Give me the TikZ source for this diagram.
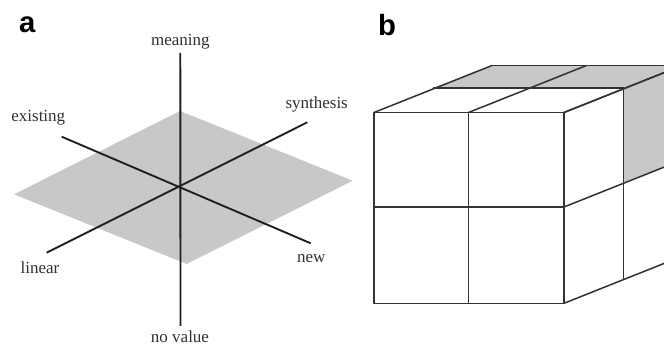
\documentclass[tikz,border=0pt]{standalone}
\usepackage{fontspec}
\setmainfont{Liberation Serif}
\setsansfont{Liberation Sans}
\usetikzlibrary{calc}
\definecolor{planefill}{HTML}{C8C8C8}
\definecolor{axisline}{HTML}{1E1E1E}
\definecolor{cubeline}{HTML}{333333}
\definecolor{labeltext}{HTML}{303030}

\begin{document}
\begin{tikzpicture}[x=0.3mm, y=-0.3mm,
    every node/.style={inner sep=0pt},
    panellabel/.style={
        font=\sffamily\bfseries\fontsize{25}{28}\selectfont,
        anchor=base west,
    },
    axislabel/.style={
        font=\fontsize{14.5}{16}\selectfont, text=labeltext,
    },
    axis/.style={
        draw=axisline, line width=1.6pt,
    },
    plane/.style={fill=planefill, draw=none},
    cubeedge/.style={
        draw=cubeline, line width=1.3pt, line cap=round, line join=round,
    },
    shaded/.style={fill=planefill, draw=none},
]
\useasboundingbox (0,0) rectangle (664,345);

% ── Panel a: three axes through a tilted plane ─────────────────────────
\node[panellabel] (pa) at (19,33) {a};

\coordinate (ptop)    at (180,111);
\coordinate (pright)  at (352.7,180.7);
\coordinate (pbottom) at (186.7,264);
\coordinate (pleft)   at (14,194.3);
\fill[plane] (ptop) -- (pright) -- (pbottom) -- (pleft) -- cycle;

\coordinate (meanend)  at (180.3,53);
\coordinate (noval)    at (180.5,326);
\coordinate (existend) at (61.7,136.7);
\coordinate (newend)   at (310.7,243.3);
\coordinate (linend)   at (46.7,252.7);
\coordinate (synend)   at (307.3,122.3);

\draw[axis] (meanend) -- (noval);
\draw[axis] (existend) -- (newend);
\draw[axis] (linend) -- (synend);

\node[axislabel] (meaning)   at (180.3,42)  {meaning};
\node[axislabel] (existing)  at (38.3,117.5) {existing};
\node[axislabel] (synthesis) at (316.7,104.5) {synthesis};
\node[axislabel] (linear)    at (40,267.5)  {linear};
\node[axislabel] (new)       at (311.3,259) {new};
\node[axislabel] (novalue)   at (180,337) {no value};

% ── Panel b: block of cells, cut at the right edge ─────────────────────
\node[panellabel] (pb) at (378,36) {b};

\begin{scope}
\clip (0,0) rectangle (664,345);
% corner points: c<column><row><depth>
\foreach \i/\x in {0/374,1/468.5,2/564}
  \foreach \j/\y in {0/112.5,1/207,2/303.3} {
    \coordinate (c\i\j0) at (\x,\y);
    \coordinate (c\i\j1) at (\x+59.5,\y-24.5);
    \coordinate (c\i\j2) at (\x+118,\y-47);
  }

\fill[shaded] (c001) -- (c201) -- (c202) -- (c002) -- cycle;
\fill[shaded] (c201) -- (c202) -- (c212) -- (c211) -- cycle;

% front face
\foreach \j in {0,1,2} \draw[cubeedge] (c0\j0) -- (c2\j0);
\foreach \i in {0,1,2} \draw[cubeedge] (c\i00) -- (c\i20);
% top face
\foreach \i in {0,1,2} \draw[cubeedge] (c\i00) -- (c\i02);
\foreach \k in {1,2} \draw[cubeedge] (c00\k) -- (c20\k);
% right face
\foreach \j in {0,1,2} \draw[cubeedge] (c2\j0) -- (c2\j2);
\foreach \k in {1,2} \draw[cubeedge] (c20\k) -- (c22\k);
\end{scope}

\end{tikzpicture}
\end{document}
